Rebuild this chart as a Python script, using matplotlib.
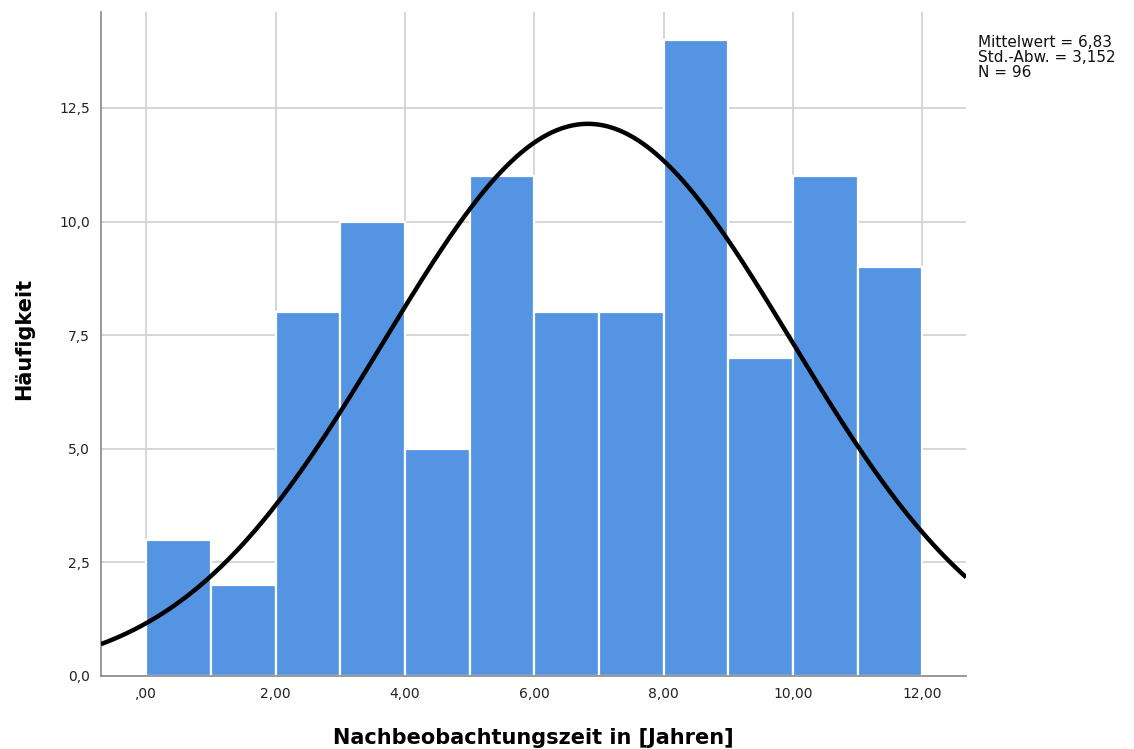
import numpy as np
import matplotlib
matplotlib.use("Agg")
import matplotlib.pyplot as plt

# Histogram data: follow-up time in years, bins of width 1
bin_edges = [0, 1, 2, 3, 4, 5, 6, 7, 8, 9, 10, 11, 12]
counts = [3, 2, 8, 10, 5, 11, 8, 8, 14, 7, 11, 9]

mean_val = 6.83
std_val = 3.152
n_total = 96

x_ticks = [0, 2, 4, 6, 8, 10, 12]
x_tick_labels = [",00", "2,00", "4,00", "6,00", "8,00", "10,00", "12,00"]
y_ticks = [0, 2.5, 5, 7.5, 10, 12.5]
y_tick_labels = ["0,0", "2,5", "5,0", "7,5", "10,0", "12,5"]

plt.rcParams['font.family'] = ['DejaVu Sans']

fig = plt.figure(figsize=(11.34, 7.49), dpi=100)
ax = fig.add_axes([0.089, 0.0975, 0.763, 0.887])

edges = np.array(bin_edges, dtype=float)
widths = np.diff(edges)
ax.bar(edges[:-1], counts, width=widths, align="edge",
       color="#5594e3", edgecolor="white", linewidth=1.6, zorder=2)

xlo, xhi = -0.70, 12.68
xs = np.linspace(xlo, xhi, 400)
bw = widths[0]
ys = n_total * bw / (std_val * np.sqrt(2 * np.pi)) * np.exp(-0.5 * ((xs - mean_val) / std_val) ** 2)
ax.plot(xs, ys, color="black", linewidth=3.2, zorder=3, solid_capstyle="butt")

ax.set_xlim(xlo, xhi)
ax.set_ylim(0, 14.62)

ax.set_xticks(x_ticks)
ax.set_xticklabels(x_tick_labels)
ax.set_yticks(y_ticks)
ax.set_yticklabels(y_tick_labels)
ax.tick_params(axis="both", length=0, labelsize=10, colors="#222222", pad=8)

ax.grid(True, color="#d0d0d0", linewidth=1.2, zorder=0)
ax.set_axisbelow(True)

for side in ("top", "right"):
    ax.spines[side].set_visible(False)
for side in ("left", "bottom"):
    ax.spines[side].set_color("#888888")
    ax.spines[side].set_linewidth(1.2)

# Axis titles placed in figure coordinates
fig.text(0.4700, 0.0147, "Nachbeobachtungszeit in [Jahren]", fontsize=15,
         fontweight="bold", ha="center", va="center")
fig.text(0.0212, 0.5474, "Häufigkeit", fontsize=15, fontweight="bold",
         rotation=90, ha="center", va="center")

stats_text = "Mittelwert = 6,83\nStd.-Abw. = 3,152\nN = 96"
fig.text(0.862, 0.953, stats_text, fontsize=11, va="top", ha="left",
         linespacing=1.0, color="#111111")

fig.savefig("out.png", dpi=100, facecolor="white")
